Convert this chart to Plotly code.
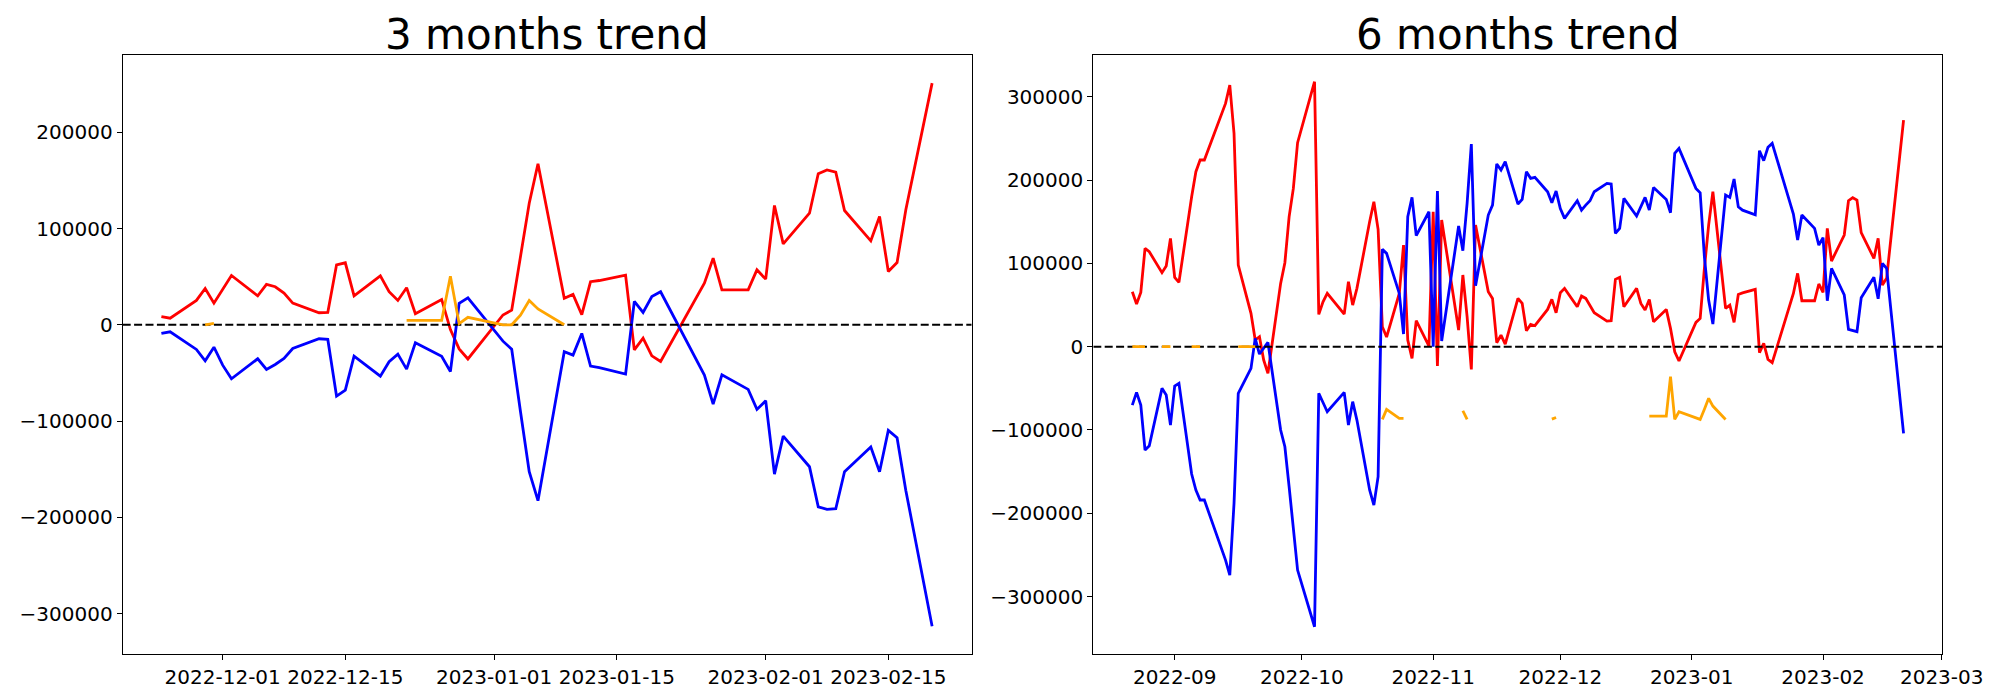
import plotly.graph_objects as go

# ---------------- 3 months trend (left) ----------------
L_DATES = [
    "2022-11-24", "2022-11-25", "2022-11-28", "2022-11-29", "2022-11-30",
    "2022-12-01", "2022-12-02", "2022-12-05", "2022-12-06", "2022-12-07",
    "2022-12-08", "2022-12-09", "2022-12-12", "2022-12-13", "2022-12-14",
    "2022-12-15", "2022-12-16", "2022-12-19", "2022-12-20", "2022-12-21",
    "2022-12-22", "2022-12-23", "2022-12-26", "2022-12-27", "2022-12-28",
    "2022-12-29", "2023-01-02", "2023-01-03", "2023-01-04", "2023-01-05",
    "2023-01-06", "2023-01-09", "2023-01-10", "2023-01-11", "2023-01-12",
    "2023-01-13", "2023-01-16", "2023-01-17", "2023-01-18", "2023-01-19",
    "2023-01-20", "2023-01-25", "2023-01-26", "2023-01-27", "2023-01-30",
    "2023-01-31", "2023-02-01", "2023-02-02", "2023-02-03", "2023-02-06",
    "2023-02-07", "2023-02-08", "2023-02-09", "2023-02-10", "2023-02-13",
    "2023-02-14", "2023-02-15", "2023-02-16", "2023-02-17", "2023-02-20",
]
L_RED = [
    8600, 6900, 25300, 37700, 22500,
    37000, 51200, 30100, 41900, 39500,
    32900, 22500, 12500, 12800, 62300,
    64400, 30100, 50900, 34300, 25300,
    38400, 11400, 26300, -5000, -25000,
    -35500, 10200, 15200, 72000, 126300,
    167200, 27500, 31600, 10500, 44800,
    46000, 51600, -26000, -13800, -32200,
    -38100, 43300, 69200, 36300, 36300,
    57100, 47400, 123900, 84100, 115900,
    156800, 160900, 158500, 118700, 87200,
    112500, 55400, 64700, 119400, 251000,
]
L_BLUE = [
    -9000, -7300, -25600, -37400, -23200,
    -41900, -56100, -35300, -46400, -41200,
    -35000, -24600, -14500, -15200, -74100,
    -67800, -32500, -53300, -38400, -30500,
    -46000, -18700, -32800, -48500, 22300,
    28000, -17000, -25400, -90000, -152600,
    -182700, -28000, -31500, -9000, -42800,
    -44600, -51200, 24200, 12800, 29400,
    34300, -52300, -82400, -51900, -67100,
    -87900, -78900, -155100, -115600, -147400,
    -189000, -191700, -191000, -152600, -127000,
    -152600, -109700, -117300, -172000, -313000,
]
L_ORANGE = [
    None, None, None, 0, 1500,
    None, None, None, None, None,
    None, None, None, None, None,
    None, None, None, None, None,
    4500, 4500, 4500, 50500, 1200,
    7800, 0, 0, 10000, 25300,
    16500, 0, None, None, None,
    None, None, None, None, None,
    None, None, None, None, None,
    None, None, None, None, None,
    None, None, None, None, None,
    None, None, None, None, None,
]
L_XTICKS = ["2022-12-01", "2022-12-15", "2023-01-01", "2023-01-15", "2023-02-01", "2023-02-15"]
L_YTICKS = [-300000, -200000, -100000, 0, 100000, 200000]
L_XRANGE = ["2022-11-19 14:00", "2023-02-24 12:30"]
L_YRANGE = [-341900, 280200]

# ---------------- 6 months trend (right) ----------------
R_DATES = [
    "2022-08-22", "2022-08-23", "2022-08-24", "2022-08-25", "2022-08-26",
    "2022-08-29", "2022-08-30", "2022-08-31", "2022-09-01", "2022-09-02",
    "2022-09-05", "2022-09-06", "2022-09-07", "2022-09-08",
    "2022-09-13", "2022-09-14", "2022-09-15", "2022-09-16",
    "2022-09-19", "2022-09-20", "2022-09-21", "2022-09-22", "2022-09-23",
    "2022-09-26", "2022-09-27", "2022-09-28", "2022-09-29", "2022-09-30",
    "2022-10-04", "2022-10-05", "2022-10-06", "2022-10-07",
    "2022-10-11", "2022-10-12", "2022-10-13", "2022-10-14",
    "2022-10-17", "2022-10-18", "2022-10-19", "2022-10-20", "2022-10-21",
    "2022-10-24", "2022-10-25", "2022-10-26", "2022-10-27", "2022-10-28",
    "2022-10-31", "2022-11-01", "2022-11-02", "2022-11-03",
    "2022-11-07", "2022-11-08", "2022-11-09", "2022-11-10", "2022-11-11",
    "2022-11-14", "2022-11-15", "2022-11-16", "2022-11-17", "2022-11-18",
    "2022-11-21", "2022-11-22", "2022-11-23", "2022-11-24", "2022-11-25",
    "2022-11-28", "2022-11-29", "2022-11-30", "2022-12-01", "2022-12-02",
    "2022-12-05", "2022-12-06", "2022-12-07", "2022-12-08", "2022-12-09",
    "2022-12-12", "2022-12-13", "2022-12-14", "2022-12-15", "2022-12-16",
    "2022-12-19", "2022-12-20", "2022-12-21", "2022-12-22", "2022-12-23",
    "2022-12-26", "2022-12-27", "2022-12-28", "2022-12-29",
    "2023-01-02", "2023-01-03", "2023-01-04", "2023-01-05", "2023-01-06",
    "2023-01-09", "2023-01-10", "2023-01-11", "2023-01-12", "2023-01-13",
    "2023-01-16", "2023-01-17", "2023-01-18", "2023-01-19", "2023-01-20",
    "2023-01-25", "2023-01-26", "2023-01-27",
    "2023-01-30", "2023-01-31", "2023-02-01", "2023-02-02", "2023-02-03",
    "2023-02-06", "2023-02-07", "2023-02-08", "2023-02-09", "2023-02-10",
    "2023-02-13", "2023-02-14", "2023-02-15", "2023-02-16",
    "2023-02-20",
]
R_RED = [
    66000, 51200, 65200, 118100, 114100,
    88900, 96900, 130100, 83300, 77300,
    180100, 210200, 224200, 224200,
    292200, 314200, 256200, 98100,
    40000, 8000, 12000, -16000, -32000,
    76000, 100900, 156000, 190100, 245000,
    318200, 38800, 54000, 64000,
    39200, 78100, 50000, 70100,
    150000, 174100, 141000, 24000, 11600,
    64000, 122100, 8000, -14000, 31200,
    800, 162100, -23200, 152100,
    20000, 86100, 36000, -27200, 146100,
    66000, 58000, 4800, 14000, 3200,
    58000, 52000, 19200, 26800, 25200,
    44800, 56800, 40800, 64800, 70100,
    48000, 60800, 58000, 50000, 40800,
    30800, 31200, 80900, 83300, 48000,
    70100, 52000, 44000, 56800, 30000,
    44800, 22000, -6000, -17200,
    29200, 34000, 94000, 146000, 186100,
    46000, 50000, 29200, 62800, 64600,
    68900, -7000, 4000, -15200, -19200,
    64000, 88100, 55200,
    55200, 75300, 65300, 142100, 102900,
    134100, 175300, 178900, 176100, 136900,
    106100, 130100, 74100, 82100,
    272200,
]
R_BLUE = [
    -70100, -54800, -70100, -124100, -118900,
    -50000, -58000, -94100, -47200, -44000,
    -152900, -172100, -184100, -184100,
    -256200, -274200, -188100, -56000,
    -26000, 10000, -8800, -2000, 5200,
    -100000, -120100, -168000, -216000, -268200,
    -336300, -56000, -67000, -78100,
    -54800, -94100, -66000, -88100,
    -172000, -190100, -156100, 116900, 112100,
    64000, 15200, 156100, 179300, 133300,
    162100, 0, 186900, 6800,
    144900, 115300, 172100, 243400, 73300,
    158100, 170100, 219400, 212200, 222200,
    171300, 176900, 210200, 202200, 203400,
    186100, 172900, 186900, 166000, 154100,
    175300, 164100, 170000, 175300, 186100,
    196100, 195300, 136100, 142100, 178100,
    156900, 168100, 179300, 164100, 191300,
    176900, 160900, 232200, 238200,
    190100, 184900, 108000, 56000, 27200,
    182100, 179300, 201300, 168100, 164000,
    158500, 235400, 223400, 239400, 244200,
    159300, 128100, 158100,
    142100, 122100, 130900, 55200, 94100,
    62100, 20800, 19200, 18000, 58800,
    83300, 57600, 100100, 94100,
    -104000,
]
R_ORANGE = [
    0, 0, 0, 0, None,
    0, 0, 0, None, None,
    0, 0, 0, None,
    None, None, None, 0,
    0, 0, None, None, None,
    None, None, None, None, None,
    None, None, None, None,
    None, None, None, None,
    None, None, None, -87300, -75300,
    -86100, -86100, None, None, None,
    None, None, None, None,
    None, -76900, -87300, None, None,
    None, None, None, None, None,
    None, None, None, None, None,
    None, -87000, -85000, None, None,
    None, None, None, None, None,
    None, None, None, None, None,
    None, None, None, -83300, -83300,
    -83300, -36000, -87300, -78100,
    -86000, -87300, -75000, -62000, -71300,
    -87300, None, None, None, None,
    None, None, None, None, None,
    None, None, None,
    None, None, None, None, None,
    None, None, None, None, None,
    None, None, None, None,
    None,
]
R_XTICKS = ["2022-09-01", "2022-10-01", "2022-11-01", "2022-12-01",
            "2023-01-01", "2023-02-01", "2023-03-01"]
R_YTICKS = [-300000, -200000, -100000, 0, 100000, 200000, 300000]
R_XRANGE = ["2022-08-12 19:00", "2023-03-01 03:20"]
R_YRANGE = [-369000, 350300]

TITLES = ["3 months trend", "6 months trend"]

FONT = "DejaVu Sans"
LW = 2.8

# the page body has an 8px default margin, so the figure is 16px smaller
W, H = 1984, 684


def fmt_num(v):
    return ("\u2212" + str(abs(v))) if v < 0 else str(v)


fig = go.Figure()

panels = [
    (L_DATES, L_RED, L_BLUE, L_ORANGE, L_XRANGE, "x", "y"),
    (R_DATES, R_RED, R_BLUE, R_ORANGE, R_XRANGE, "x2", "y2"),
]
for dates, red, blue, orange, xr, xa, ya in panels:
    fig.add_trace(go.Scatter(x=dates, y=red, mode="lines", line=dict(color="red", width=LW),
                             xaxis=xa, yaxis=ya, showlegend=False))
    fig.add_trace(go.Scatter(x=dates, y=blue, mode="lines", line=dict(color="blue", width=LW),
                             xaxis=xa, yaxis=ya, showlegend=False))
    fig.add_trace(go.Scatter(x=xr, y=[0, 0], mode="lines",
                             line=dict(color="black", width=2.1, dash="8px,3.4px"),
                             xaxis=xa, yaxis=ya, showlegend=False))
    fig.add_trace(go.Scatter(x=dates, y=orange, mode="lines", line=dict(color="orange", width=LW),
                             xaxis=xa, yaxis=ya, showlegend=False, connectgaps=False))

XDOM1 = [114.7 / W, 963.7 / W]
XDOM2 = [1085.3 / W, 1934.3 / W]
YDOM = [(H - 646) / H, (H - 47) / H]

axis_common = dict(showline=True, linecolor="black", linewidth=1.1, mirror=True,
                   ticks="outside", ticklen=5, tickwidth=1.1, tickcolor="black",
                   showgrid=False, zeroline=False, automargin=False,
                   tickfont=dict(family=FONT, size=20, color="black"))

fig.update_layout(
    template="none",
    width=W, height=H, autosize=False,
    margin=dict(l=0, r=0, t=0, b=0, pad=0),
    paper_bgcolor="white", plot_bgcolor="white",
    font=dict(family=FONT, color="black"),
    xaxis=dict(domain=XDOM1, type="date", range=L_XRANGE, tickmode="array",
               tickvals=L_XTICKS, ticktext=L_XTICKS, anchor="y", **axis_common),
    yaxis=dict(domain=YDOM, range=L_YRANGE, tickmode="array",
               tickvals=L_YTICKS, ticktext=[fmt_num(v) for v in L_YTICKS], anchor="x", **axis_common),
    xaxis2=dict(domain=XDOM2, type="date", range=R_XRANGE, tickmode="array",
                tickvals=R_XTICKS, ticktext=[t[:7] for t in R_XTICKS], anchor="y2", **axis_common),
    yaxis2=dict(domain=YDOM, range=R_YRANGE, tickmode="array",
                tickvals=R_YTICKS, ticktext=[fmt_num(v) for v in R_YTICKS], anchor="x2", **axis_common),
)

for dom, title in zip([XDOM1, XDOM2], TITLES):
    fig.add_annotation(text=title, xref="paper", yref="paper",
                       x=(dom[0] + dom[1]) / 2, y=(H - 53) / H,
                       xanchor="center", yanchor="bottom", showarrow=False,
                       font=dict(family=FONT, size=42, color="black"))

fig.write_html("out.html")
